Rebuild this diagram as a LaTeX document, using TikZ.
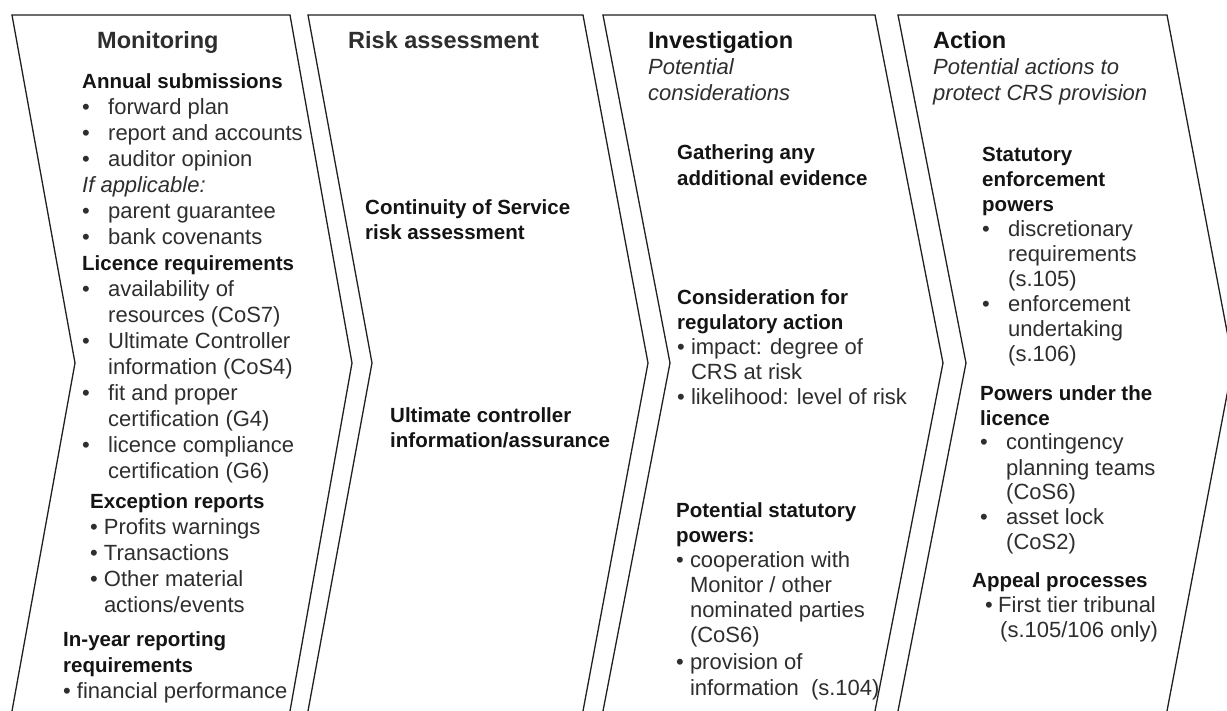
\documentclass[tikz,border=0pt]{standalone}
\usepackage{fontspec}
\setmainfont{Liberation Sans}
\definecolor{ink}{HTML}{2E2E2E}
\definecolor{inkbold}{HTML}{141414}
\definecolor{edge}{HTML}{202020}
% type sizes (1pt = 1 pixel of the final image)
\newcommand\regsz{\fontsize{22}{26}\selectfont}
\newcommand\regszb{\fontsize{22}{25}\selectfont}
\newcommand\subsz{\fontsize{20.5}{25}\selectfont\bfseries\color{inkbold}}
\newcommand\ttlsz{\fontsize{23.5}{26}\selectfont\bfseries\color{inkbold}}
% bullets: tabbed style and tight style
\newcommand\tabbul{\makebox[26pt][l]{•}}
\newcommand\tabhang{\hspace*{26pt}}
\newcommand\dotbul{•\ }
\newcommand\dothang{\hphantom{•\ }}
\tikzset{
  chev/.style={draw=edge, line width=1.3pt, line join=miter},
  grp/.style={anchor=base west, inner sep=0pt, text=ink},
}
\begin{document}
\begin{tikzpicture}[x=1pt,y=-1pt]
\useasboundingbox (0,0) rectangle (1227,711);
\fill[white] (0,0) rectangle (1227,711);
\begin{scope}
\clip (0,0) rectangle (1227,711);
% the four chevrons
\draw[chev] (12,711) -- (75,363) -- (12,15) -- (290,15) -- (352,363) -- (290,711);
\draw[chev] (308,711) -- (372,363) -- (308,15) -- (583,15) -- (648,363) -- (583,711);
\draw[chev] (603,711) -- (670,363) -- (603,15) -- (875,15) -- (943,363) -- (875,711);
\draw[chev] (898,711) -- (966,363) -- (898,15) -- (1167,15) -- (1233,363) -- (1167,711);
\end{scope}

% ---- Monitoring
\node[grp, font=\ttlsz] (monT) at (97,49) {Monitoring};
\node[grp, font=\regsz] (monA) at (82,89) {\begin{tabular}[t]{@{}l@{}}
{\subsz Annual submissions}\\
\tabbul forward plan\\
\tabbul report and accounts\\
\tabbul auditor opinion\\
\textit{If applicable:}\\
\tabbul parent guarantee\\
\tabbul bank covenants\\
{\subsz Licence requirements}\\
\tabbul availability of\\
\tabhang resources (CoS7)\\
\tabbul Ultimate Controller\\
\tabhang information (CoS4)\\
\tabbul fit and proper\\
\tabhang certification (G4)\\
\tabbul licence compliance\\
\tabhang certification (G6)
\end{tabular}};
\node[grp, font=\regsz] (monE) at (90,508) {\begin{tabular}[t]{@{}l@{}}
{\subsz Exception reports}\\
\dotbul Profits warnings\\
\dotbul Transactions\\
\dotbul Other material\\
\dothang actions/events
\end{tabular}};
\node[grp, font=\regsz] (monY) at (63,646) {\begin{tabular}[t]{@{}l@{}}
{\subsz In-year reporting}\\
{\subsz requirements}\\
\dotbul financial performance
\end{tabular}};

% ---- Risk assessment
\node[grp, font=\ttlsz] (riskT) at (348,49) {Risk assessment};
\node[grp, font=\regszb] (riskC) at (365,215) {\begin{tabular}[t]{@{}l@{}}
{\subsz Continuity of Service}\\
{\subsz risk assessment}
\end{tabular}};
\node[grp, font=\regszb] (riskU) at (390,422) {\begin{tabular}[t]{@{}l@{}}
{\subsz Ultimate controller}\\
{\subsz information/assurance}
\end{tabular}};

% ---- Investigation
\node[grp, font=\regsz] (invT) at (648,49) {\begin{tabular}[t]{@{}l@{}}
{\ttlsz Investigation}\\
\textit{Potential}\\
\textit{considerations}
\end{tabular}};
\node[grp, font=\regsz] (invG) at (677,160) {\begin{tabular}[t]{@{}l@{}}
{\subsz Gathering any}\\
{\subsz additional evidence}
\end{tabular}};
\node[grp, font=\regszb] (invC) at (677,305) {\begin{tabular}[t]{@{}l@{}}
{\subsz Consideration for}\\
{\subsz regulatory action}\\
\dotbul impact: degree of\\
\dothang CRS at risk\\
\dotbul likelihood: level of risk
\end{tabular}};
\node[grp, font=\regszb] (invP) at (676,517) {\begin{tabular}[t]{@{}l@{}}
{\subsz Potential statutory}\\
{\subsz powers:}\\
\dotbul cooperation with\\
\dothang Monitor / other\\
\dothang nominated parties\\
\dothang (CoS6)\\[3pt]
\dotbul provision of\\
\dothang information\ \ (s.104)
\end{tabular}};

% ---- Action
\node[grp, font=\regsz] (actT) at (933,49) {\begin{tabular}[t]{@{}l@{}}
{\ttlsz Action}\\
\textit{Potential actions to}\\
\textit{protect CRS provision}
\end{tabular}};
\node[grp, font=\regszb] (actS) at (982,162) {\begin{tabular}[t]{@{}l@{}}
{\subsz Statutory}\\
{\subsz enforcement}\\
{\subsz powers}\\
\tabbul discretionary\\
\tabhang requirements\\
\tabhang (s.105)\\
\tabbul enforcement\\
\tabhang undertaking\\
\tabhang (s.106)
\end{tabular}};
\node[grp, font=\regszb] (actP) at (980,400) {\begin{tabular}[t]{@{}l@{}}
{\subsz Powers under the}\\
{\subsz licence}\\
\tabbul contingency\\
\tabhang planning teams\\
\tabhang (CoS6)\\
\tabbul asset lock\\
\tabhang (CoS2)
\end{tabular}};
\node[grp, font=\regszb] (actA) at (972,587) {\begin{tabular}[t]{@{}l@{}}
{\subsz Appeal processes}\\
\hspace*{13pt}\makebox[13pt][l]{•}First tier tribunal\\
\hspace*{28pt}(s.105/106 only)
\end{tabular}};
\end{tikzpicture}
\end{document}
